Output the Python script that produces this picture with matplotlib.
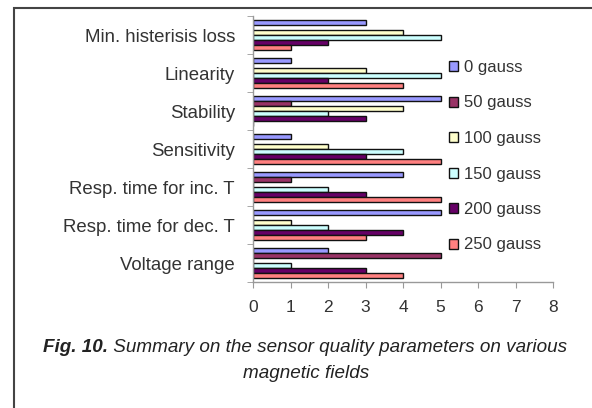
import numpy as np
import matplotlib.pyplot as plt
from matplotlib.patches import Rectangle

# --- DATA ---
categories = ['Min. histerisis loss', 'Linearity', 'Stability', 'Sensitivity',
              'Resp. time for inc. T', 'Resp. time for dec. T', 'Voltage range']
series_names = ['0 gauss', '50 gauss', '100 gauss', '150 gauss', '200 gauss', '250 gauss']
g0 = [3, 1, 5, 1, 4, 5, 2]
g50 = [0, 0, 1, 0, 1, 0, 5]
g100 = [4, 3, 4, 2, 0, 1, 0]
g150 = [5, 5, 2, 4, 2, 2, 1]
g200 = [2, 2, 3, 3, 3, 4, 3]
g250 = [1, 4, 0, 5, 5, 3, 4]
x_ticks = [0, 1, 2, 3, 4, 5, 6, 7, 8]

colors = ['#9999FF', '#993366', '#FFFFCC', '#CCFFFF', '#660066', '#FF8080']

plt.rcParams['font.family'] = ['Liberation Sans', 'DejaVu Sans']

W, H = 592, 408
fig = plt.figure(figsize=(W / 100, H / 100), dpi=100)

# outer frame of the figure box (cut off right and bottom)
fig.add_artist(Rectangle((14 / W, -0.1), 1.2, 1 - 8 / H + 0.1, transform=fig.transFigure,
                         fill=False, edgecolor='#444444', linewidth=1.5))

ax = fig.add_axes([253 / W, 1 - 282 / H, 300 / W, 266 / H])

y = np.arange(len(categories))
h = 0.134
for j, (vals, name) in enumerate(zip([g0, g50, g100, g150, g200, g250], series_names)):
    ax.barh(y + (j - 2.5) * h, vals, height=h, color=colors[j], edgecolor='#111111',
            linewidth=1.0, label=name)

ax.set_ylim(len(categories) - 0.5, -0.5)
ax.set_xlim(0, 8)
ax.set_xticks(x_ticks)
ax.set_yticks(y)
ax.set_yticklabels(categories)
ax.set_yticks(np.arange(len(categories) + 1) - 0.5, minor=True)

for s in ['top', 'right']:
    ax.spines[s].set_visible(False)
for s in ['left', 'bottom']:
    ax.spines[s].set_color('#999999')
    ax.spines[s].set_linewidth(1)

ax.tick_params(axis='y', which='major', length=0, pad=13, labelsize=13.4, labelcolor='#333333')
ax.tick_params(axis='y', which='minor', length=4, color='#999999', direction='out')
ax.tick_params(axis='x', length=4, color='#999999', pad=9, labelsize=12.5, labelcolor='#333333')

ax.legend(loc='upper left', bbox_to_anchor=(449 / W, 1 - 60 / H),
          bbox_transform=fig.transFigure, frameon=False, fontsize=12,
          handlelength=0.55, handleheight=0.55, handletextpad=0.35,
          labelspacing=1.23, borderpad=0, borderaxespad=0, labelcolor='#333333')

# caption
bold = fig.text(43 / W, 1 - 348 / H, 'Fig. 10.', fontsize=13.6, style='italic',
                weight='bold', va='center', ha='left', color='#222222')
ax.annotate(' Summary on the sensor quality parameters on various', xy=(1, 0.5),
            xycoords=bold, va='center', ha='left', fontsize=13.6, style='italic',
            color='#222222', annotation_clip=False)
fig.text(306 / W, 1 - 374 / H, 'magnetic fields', fontsize=13.6, style='italic',
         va='center', ha='center', color='#222222')

fig.savefig('out.png', dpi=100)
